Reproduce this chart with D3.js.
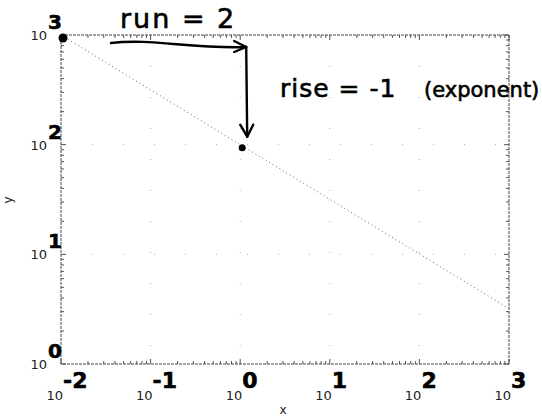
<!DOCTYPE html>
<html>
<head>
<meta charset="utf-8">
<script src="https://cdn.jsdelivr.net/npm/d3@7"></script>
<style>
  body { margin: 0; background: #fff; }
  svg { display: block; }
  .tick10 { font-family: "DejaVu Sans", sans-serif; fill: #222; }
  .hand { font-family: "DejaVu Sans", sans-serif; fill: #000; stroke: #000; stroke-width: 0.6px; }
</style>
</head>
<body>
<svg id="chart" width="542" height="416"></svg>
<script>
// line (log-log, slope -1/2)
var lineX = [0.01, 1, 1000];
var lineY = [1000, 100, 3.2];
// the two marked points
var markX = [0.01, 1];
var markY = [1000, 100];
// decade ticks and their handwritten exponents
var xDecades = [0.01, 0.1, 1, 10, 100, 1000];
var xExp = ["-2", "-1", "0", "1", "2", "3"];
var yDecades = [1, 10, 100, 1000];
var yExp = ["0", "1", "2", "3"];

var svg = d3.select('#chart');
var padLeft = 61, padRight = 509, padTop = 35, padBottom = 364;

var xScale = d3.scaleLog().domain([0.01, 1000]).range([padLeft, padRight]);
var yScale = d3.scaleLog().domain([1, 1000]).range([padBottom, padTop]);

// grid
var grid = svg.append('g');
grid.selectAll('line.gx').data(xDecades.slice(1, -1)).enter().append('line')
	.attr('x1', function (d) { return xScale(d) }).attr('x2', function (d) { return xScale(d) })
	.attr('y1', padTop).attr('y2', padBottom)
	.attr('stroke', '#aaa').attr('stroke-width', 1).attr('stroke-dasharray', '1,30');
grid.selectAll('line.gy').data(yDecades.slice(1, -1)).enter().append('line')
	.attr('y1', function (d) { return yScale(d) }).attr('y2', function (d) { return yScale(d) })
	.attr('x1', padLeft).attr('x2', padRight)
	.attr('stroke', '#aaa').attr('stroke-width', 1).attr('stroke-dasharray', '1,30');

// minor ticks, inside the box
var xMinor = xScale.ticks();
var yMinor = yScale.ticks();
var ticks = svg.append('g').attr('stroke', '#555').attr('stroke-width', 1);
xMinor.forEach(function (d) {
	var big = xDecades.indexOf(d) >= 0 ? 5 : 3;
	ticks.append('line').attr('x1', xScale(d)).attr('x2', xScale(d)).attr('y1', padBottom).attr('y2', padBottom - big);
	ticks.append('line').attr('x1', xScale(d)).attr('x2', xScale(d)).attr('y1', padTop).attr('y2', padTop + big);
});
yMinor.forEach(function (d) {
	var big = yDecades.indexOf(d) >= 0 ? 5 : 3;
	ticks.append('line').attr('y1', yScale(d)).attr('y2', yScale(d)).attr('x1', padLeft).attr('x2', padLeft + big);
	ticks.append('line').attr('y1', yScale(d)).attr('y2', yScale(d)).attr('x1', padRight).attr('x2', padRight - big);
});

// box
svg.append('rect').attr('x', padLeft).attr('y', padTop).attr('width', padRight - padLeft).attr('height', padBottom - padTop)
	.attr('fill', 'none').attr('stroke', '#444').attr('stroke-width', 1).attr('stroke-dasharray', '3,1');

// data line
var line = d3.line().x(function (d, i) { return xScale(lineX[i]) }).y(function (d, i) { return yScale(lineY[i]) });
svg.append('path').datum(lineX).attr('d', line)
	.attr('fill', 'none').attr('stroke', '#666').attr('stroke-width', 1).attr('stroke-dasharray', '1,3');

// tick labels "10" + handwritten exponents
xDecades.forEach(function (d, i) {
	svg.append('text').attr('class', 'tick10').attr('font-size', 13).attr('x', xScale(d) + 2).attr('y', 400).attr('text-anchor', 'end').text('10');
	svg.append('text').attr('class', 'hand').attr('x', xScale(d) + 2).attr('y', 388)
		.attr('font-size', 22).attr('font-weight', 'bold').text(xExp[i]);
});
yDecades.forEach(function (d, i) {
	svg.append('text').attr('class', 'tick10').attr('font-size', 13).attr('x', 47).attr('y', yScale(d) + 5).attr('text-anchor', 'end').text('10');
	svg.append('text').attr('class', 'hand').attr('x', 48).attr('y', yScale(d) - 6)
		.attr('font-size', 20).attr('font-weight', 'bold').text(yExp[i]);
});

// axis labels
svg.append('text').attr('class', 'tick10').attr('font-size', 12).attr('x', 283).attr('y', 414).attr('text-anchor', 'middle').text('x');
svg.append('text').attr('class', 'tick10').attr('font-size', 12).attr('transform', 'translate(' + [12, 200] + ') rotate(-90)')
	.attr('text-anchor', 'middle').text('y');

// marked points
svg.append('g').selectAll('circle').data(markX).enter().append('circle')
	.attr('cx', function (d) { return xScale(d) + 2 })
	.attr('cy', function (d, i) { return yScale(markY[i]) + 3 })
	.attr('r', function (d, i) { return i === 0 ? 4.5 : 3.5 })
	.attr('fill', '#000');

// handwritten annotations
var x0 = xScale(markX[0]), x1 = xScale(markX[1]);
var y0 = yScale(markY[0]), y1 = yScale(markY[1]);
var ink = svg.append('g').attr('fill', 'none').attr('stroke', '#000').attr('stroke-width', 2.4)
	.attr('stroke-linecap', 'round').attr('stroke-linejoin', 'round');
ink.append('path').attr('d', 'M' + (x0 + 50) + ',' + (y0 + 8) + ' C' + (x0 + 90) + ',' + (y0 + 3) + ' ' + (x0 + 130) + ',' + (y0 + 14) + ' ' + (x1 + 6) + ',' + (y0 + 12));
ink.append('path').attr('d', 'M' + (x1 - 6) + ',' + (y0 + 6) + ' L' + (x1 + 6) + ',' + (y0 + 12) + ' L' + (x1 - 6) + ',' + (y0 + 17));
ink.append('path').attr('d', 'M' + (x1 + 6) + ',' + (y0 + 12) + ' L' + (x1 + 7) + ',' + (y1 - 8));
ink.append('path').attr('d', 'M' + (x1) + ',' + (y1 - 20) + ' L' + (x1 + 7) + ',' + (y1 - 8) + ' L' + (x1 + 13) + ',' + (y1 - 20));

svg.append('text').attr('class', 'hand').attr('x', 120).attr('y', 28).attr('font-size', 27).attr('letter-spacing', 2).text('run = 2');
svg.append('text').attr('class', 'hand').attr('x', 280).attr('y', 97).attr('font-size', 25).attr('letter-spacing', 1).text('rise = -1');
svg.append('text').attr('class', 'hand').attr('x', 424).attr('y', 97).attr('font-size', 21).text('(exponent)');
</script>
</body>
</html>
